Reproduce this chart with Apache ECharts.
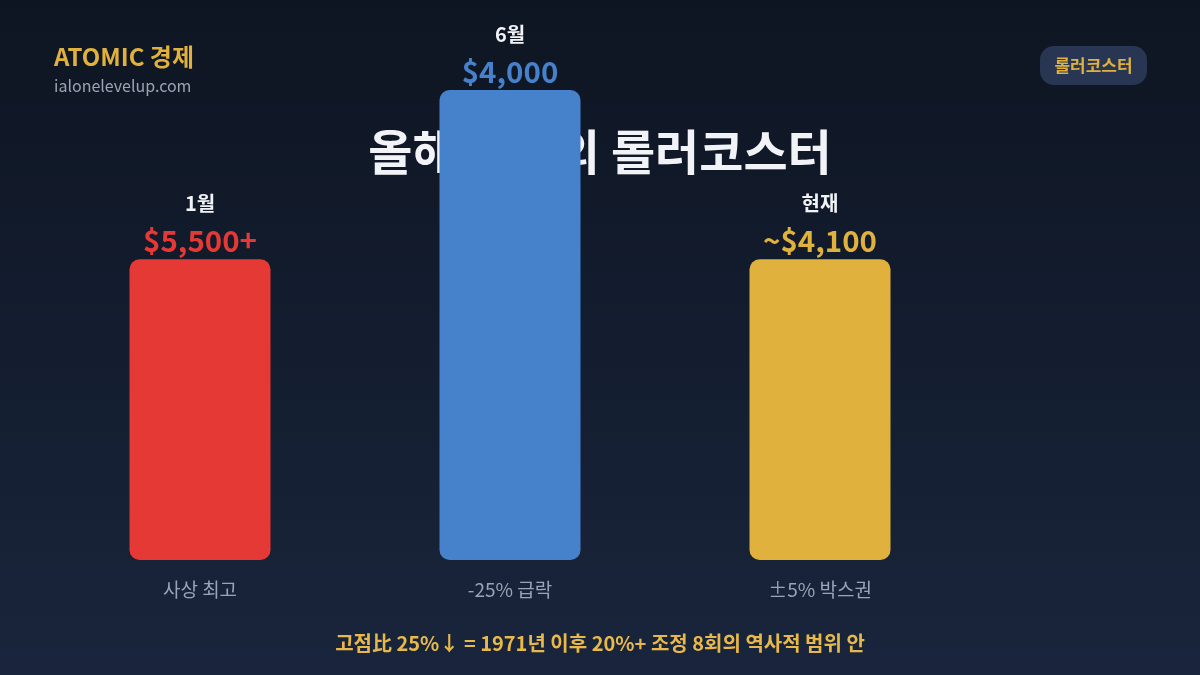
<!DOCTYPE html>
<html>
<head>
<meta charset="utf-8">
<script src="https://cdn.jsdelivr.net/npm/echarts@6/dist/echarts.min.js"></script>
<style>
html,body{margin:0;padding:0;background:#0f1625;}
#c{width:1200px;height:675px;}
</style>
</head>
<body>
<div id="c"></div>
<script>
// Data
const categories = ['사상 최고', '-25% 급락', '±5% 박스권'];
const periods = ['1월', '6월', '현재'];
const priceLabels = ['$5,500+', '$4,000', '~$4,100'];
const barHeights = [64, 100, 64]; // relative bar height as drawn
const barColors = ['#e53935', '#4682cb', '#e0b13c'];

const FONT = '"Noto Sans CJK KR", "Noto Sans", sans-serif';

const chart = echarts.init(document.getElementById('c'));
chart.setOption({
  backgroundColor: {
    type: 'linear', x: 0, y: 0, x2: 0, y2: 1,
    colorStops: [{offset: 0, color: '#0e1522'}, {offset: 1, color: '#19253c'}]
  },
  textStyle: {fontFamily: FONT},
  title: {
    text: '올해 금값의 롤러코스터',
    left: 'center',
    top: 123,
    z: 1,
    textStyle: {color: '#f1f3f7', fontSize: 48, fontWeight: 'bold', fontFamily: FONT}
  },
  grid: {left: 45, right: 225, top: 90, bottom: 115},
  xAxis: {
    type: 'category',
    data: categories,
    axisLine: {show: false},
    axisTick: {show: false},
    axisLabel: {color: '#9aa4b6', fontSize: 19, margin: 20, fontFamily: FONT}
  },
  yAxis: {
    type: 'value', min: 0, max: 100,
    show: false, splitLine: {show: false}
  },
  series: [{
    type: 'bar',
    z: 5,
    barWidth: 141,
    data: barHeights.map((v, i) => ({
      value: v,
      itemStyle: {color: barColors[i], borderRadius: 10},
      label: {
        show: true,
        position: 'top',
        distance: 2,
        formatter: '{m|' + periods[i] + '}\n{v|' + priceLabels[i] + '}',
        rich: {
          m: {color: '#f1f3f7', fontSize: 20, fontWeight: 'bold', lineHeight: 44, fontFamily: FONT},
          v: {color: barColors[i], fontSize: 29.5, fontWeight: 'bold', lineHeight: 32, fontFamily: FONT}
        }
      }
    }))
  }],
  graphic: [
    {type: 'text', left: 54, top: 45, z: 10,
     style: {text: 'ATOMIC 경제', fill: '#e0b13c', font: 'bold 24px ' + FONT}},
    {type: 'text', left: 54, top: 78, z: 10,
     style: {text: 'ialonelevelup.com', fill: '#9aa4b6', font: '16px ' + FONT}},
    {type: 'group', right: 53, top: 46, z: 10, children: [
      {type: 'rect', shape: {x: 0, y: 0, width: 107, height: 39, r: 14},
       style: {fill: '#283654'}},
      {type: 'text', x: 53.5, y: 20,
       style: {text: '롤러코스터', fill: '#e0b13c', font: 'bold 17px ' + FONT, textAlign: 'center', textVerticalAlign: 'middle'}}
    ]},
    {type: 'text', left: 'center', top: 633, z: 10,
     style: {text: '고점比 25%↓ = 1971년 이후 20%+ 조정 8회의 역사적 범위 안', fill: '#e8b84a', font: 'bold 20px ' + FONT}}
  ]
});
</script>
</body>
</html>
